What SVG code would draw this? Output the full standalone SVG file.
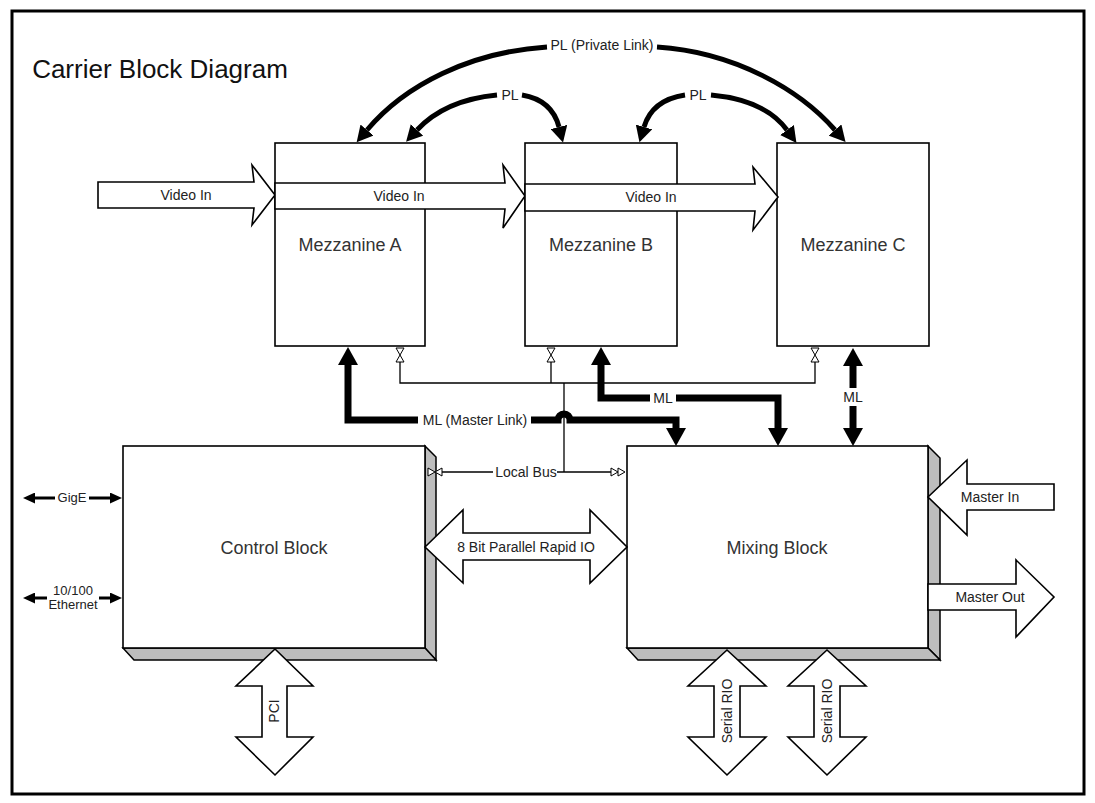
<svg xmlns="http://www.w3.org/2000/svg" width="1095" height="803" viewBox="0 0 1095 803">
<style>
.box{fill:#fff;stroke:#000;stroke-width:1.6}
.shadow{fill:#bdbdbd;stroke:#000;stroke-width:1.5;stroke-linejoin:miter}
.fat{fill:#fff;stroke:#000;stroke-width:1.6;stroke-linejoin:miter}
.thick{fill:none;stroke:#000;stroke-width:7;stroke-linejoin:miter}
.pl{fill:none;stroke:#000;stroke-width:5}
.eth{fill:none;stroke:#000;stroke-width:3}
.thin{fill:none;stroke:#000;stroke-width:1.3}
.sym{fill:#fff;stroke:#000;stroke-width:1}
.t{font-family:"Liberation Sans",Arial,sans-serif;fill:#222;text-anchor:middle}
.lbl{font-size:14px}
.sm{font-size:13px}
.big{font-size:18px;fill:#333}
</style>
<defs>
<marker id="ahT" markerUnits="userSpaceOnUse" markerWidth="20" markerHeight="20" refX="0" refY="10" orient="auto-start-reverse"><path d="M0,0 L18,10 L0,20 Z" fill="#000"/></marker>
<marker id="ahP" markerUnits="userSpaceOnUse" markerWidth="17" markerHeight="17" refX="0" refY="8.5" orient="auto-start-reverse"><path d="M0,0 L16,8.5 L0,17 Z" fill="#000"/></marker>
<marker id="ahS" markerUnits="userSpaceOnUse" markerWidth="13" markerHeight="11" refX="0" refY="5.5" orient="auto-start-reverse"><path d="M0,0 L12,5.5 L0,11 Z" fill="#000"/></marker>
</defs>
<rect x="0" y="0" width="1095" height="803" fill="#fff"/>
<rect x="12" y="11" width="1072" height="783" fill="#fff" stroke="#000" stroke-width="3"/>
<g id="title"><text class="t" x="160" y="78" style="font-size:26px;fill:#111">Carrier Block Diagram</text></g>
<g id="mezzanine-a"><rect class="box" x="275" y="143" width="150" height="203"/><text class="t big" x="350" y="251">Mezzanine A</text></g>
<g id="mezzanine-b"><rect class="box" x="525" y="143" width="152" height="203"/><text class="t big" x="601" y="251">Mezzanine B</text></g>
<g id="mezzanine-c"><rect class="box" x="777" y="143" width="152" height="203"/><text class="t big" x="853" y="251">Mezzanine C</text></g>
<g id="control-block">
<polygon class="shadow" points="425,446 436,457 436,660 425,648"/>
<polygon class="shadow" points="123,648 134,660 436,660 425,648"/>
<rect class="box" x="123" y="446" width="302" height="202"/>
<text class="t big" x="274" y="554">Control Block</text></g>
<g id="mixing-block">
<polygon class="shadow" points="928,446 940,458 940,660 928,648"/>
<polygon class="shadow" points="627,648 638,660 940,660 928,648"/>
<rect class="box" x="627" y="446" width="301" height="202"/>
<text class="t big" x="777" y="554">Mixing Block</text></g>
<g id="connectors">
<!-- PL arcs -->
<path class="pl" d="M547,47 C470,52 405,85 367,130" marker-end="url(#ahP)"/>
<path class="pl" d="M657,47 C735,52 800,90 835,130" marker-end="url(#ahP)"/>
<text class="t lbl" x="602" y="50">PL (Private Link)</text>
<path class="pl" d="M497,95 Q445,100 417,130" marker-end="url(#ahP)"/>
<path class="pl" d="M522,95 Q552,100 559,127" marker-end="url(#ahP)"/>
<text class="t lbl" x="510" y="100">PL</text>
<path class="pl" d="M685,95 Q652,100 644,127" marker-end="url(#ahP)"/>
<path class="pl" d="M711,95 Q765,100 787,130" marker-end="url(#ahP)"/>
<text class="t lbl" x="698" y="100">PL</text>
<!-- Video In -->
<polygon class="fat" points="98,182 254,182 252,165 275,195 252,225 254,208 98,208"/>
<text class="t lbl" x="186" y="200">Video In</text>
<polygon class="fat" points="275,183 505,183 503,165 525,196 503,228 505,209 275,209"/>
<text class="t lbl" x="399" y="201">Video In</text>
<polygon class="fat" points="525,184 755,184 753,167 778,197 753,230 755,211 525,211"/>
<text class="t lbl" x="651" y="202">Video In</text>
<!-- local bus thin lines -->
<path class="thin" d="M400,362 L400,383 L815,383 L815,362"/>
<path class="thin" d="M551,362 L551,383"/>
<path class="thin" d="M564,383 L564,472"/>
<path class="thin" d="M442,472 L493,472"/>
<path class="thin" d="M557,472 L611,472"/>
<text class="t lbl" x="526" y="477">Local Bus</text>
<polygon class="sym" points="396,348 404,348 400,355"/><polygon class="sym" points="396,362 404,362 400,355"/>
<polygon class="sym" points="547,348 555,348 551,355"/><polygon class="sym" points="547,362 555,362 551,355"/>
<polygon class="sym" points="811,348 819,348 815,355"/><polygon class="sym" points="811,362 819,362 815,355"/>
<polygon class="sym" points="428,468 428,476 435,472"/><polygon class="sym" points="442,468 442,476 435,472"/>
<polygon class="sym" points="611,468 611,476 618,472"/><polygon class="sym" points="618,468 618,476 625,472"/>
<!-- ML thick links -->
<path class="thick" d="M348,365 L348,420 L418,420" marker-start="url(#ahT)"/>
<path class="thick" d="M531,420 L558,420 A6,6 0 0 1 570,420 L676,420 L676,428" marker-end="url(#ahT)"/>
<text class="t lbl" x="475" y="425">ML (Master Link)</text>
<path class="thick" d="M601,365 L601,398 L650,398" marker-start="url(#ahT)"/>
<path class="thick" d="M676,398 L778,398 L778,428" marker-end="url(#ahT)"/>
<text class="t lbl" x="663" y="403">ML</text>
<path class="thick" d="M853,388 L853,366" marker-end="url(#ahT)"/>
<path class="thick" d="M853,406 L853,428" marker-end="url(#ahT)"/>
<text class="t lbl" x="853" y="402">ML</text>
<!-- Ethernet -->
<path class="eth" d="M35,498 L55,498" marker-start="url(#ahS)"/>
<path class="eth" d="M89,498 L110,498" marker-end="url(#ahS)"/>
<text class="t sm" x="72" y="502">GigE</text>
<path class="eth" d="M35,598 L47,598" marker-start="url(#ahS)"/>
<path class="eth" d="M99,598 L110,598" marker-end="url(#ahS)"/>
<text class="t sm" x="73" y="595">10/100</text>
<text class="t sm" x="73" y="609">Ethernet</text>
<!-- 8 bit parallel -->
<polygon class="fat" points="425,547 463,510 463,533 590,533 590,510 627,547 590,583 590,560 463,560 463,583"/>
<text class="t lbl" x="526" y="552">8 Bit Parallel Rapid IO</text>
<!-- Master in/out -->
<polygon class="fat" points="928,497 967,460 967,484 1054,484 1054,510 967,510 967,535"/>
<text class="t lbl" x="990" y="502">Master In</text>
<polygon class="fat" points="928,584 1016,584 1016,560 1054,597 1016,637 1016,610 928,610"/>
<text class="t lbl" x="990" y="602">Master Out</text>
<!-- PCI -->
<polygon class="fat" points="275,649 313,686 287,686 287,737 313,737 275,775 236,737 262,737 262,686 236,686"/>
<text class="t lbl" transform="translate(279,711) rotate(-90)">PCI</text>
<!-- Serial RIO -->
<polygon class="fat" points="727,650 766,686 740,686 740,737 766,737 727,775 688,737 714,737 714,686 688,686"/>
<text class="t lbl" transform="translate(732,711) rotate(-90)">Serial RIO</text>
<polygon class="fat" points="827,650 866,686 840,686 840,737 866,737 827,775 788,737 814,737 814,686 788,686"/>
<text class="t lbl" transform="translate(832,711) rotate(-90)">Serial RIO</text>
</g>
</svg>
